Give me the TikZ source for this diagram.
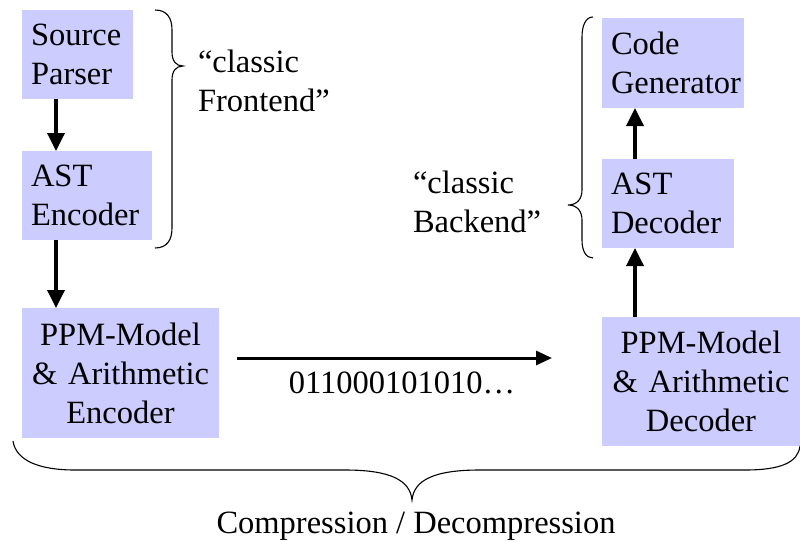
\documentclass[tikz,border=0pt]{standalone}
\usepackage{fontspec}
\setmainfont{Liberation Serif}
\usetikzlibrary{arrows.meta}
\definecolor{boxfill}{RGB}{204,204,255}
\hfuzz=30pt
\begin{document}
\begin{tikzpicture}[x=1pt,y=-1pt,
  every node/.style={font=\fontsize{32.5}{39}\selectfont},
  block/.style={fill=boxfill, inner xsep=9pt, inner ysep=0pt, outer sep=0pt, anchor=center},
  label/.style={inner sep=0pt, outer sep=0pt},
  arr/.style={line width=3.5pt, -{Triangle[length=18pt,width=17pt]}},
  harr/.style={line width=3pt, -{Triangle[length=16pt,width=14pt]}},
  brace/.style={line width=1.1pt}]
\useasboundingbox (0,0) rectangle (800,541);

% compression side
\node[block, text width=93pt, minimum height=89pt, align=left] (sp) at (77.5,54.5) {Source\\Parser};
\node[block, text width=112pt, minimum height=89pt, align=left] (aste) at (87,195.5) {AST\\Encoder};
\node[block, text width=179pt, minimum height=130pt, align=center] (ppme) at (120.5,373) {PPM-Model\\\& Arithmetic\\Encoder};

% decompression side
\node[block, text width=124pt, minimum height=90pt, align=left] (cg) at (673,63) {Code\\Generator};
\node[block, text width=114pt, minimum height=89pt, align=left] (astd) at (668,203.5) {AST\\Decoder};
\node[block, text width=180pt, minimum height=129pt, align=center] (ppmd) at (701,381.5) {PPM-Model\\\& Arithmetic\\Decoder};

% guide coordinates for the connectors
\coordinate (xl) at (56,0);
\coordinate (xr) at (635,0);
\coordinate (yh) at (0,358);

\draw[arr] (sp.south -| xl) -- (aste.north -| xl);
\draw[arr] (aste.south -| xl) -- (ppme.north -| xl);
\draw[arr] (ppmd.north -| xr) -- (astd.south -| xr);
\draw[arr] (astd.north -| xr) -- (cg.south -| xr);
\draw[harr] ([xshift=18pt]ppme.east |- yh) -- ([xshift=-50pt]ppmd.west |- yh);

\node[label, anchor=base] (bits) at (402,393) {011000101010…};

% frontend brace
\draw[brace] (155,10) .. controls (167,10) and (172,18) .. (172,30) -- (172,52)
  .. controls (172,61) and (176,66) .. (183,66)
  .. controls (176,66) and (172,71) .. (172,80) -- (172,228)
  .. controls (172,240) and (167,248) .. (155,248);
\node[label, anchor=base west, text width=150pt, align=left] (fe) at (198,72) {“classic\\Frontend”};

% backend brace
\draw[brace] (593,17) .. controls (586,17) and (582,25) .. (582,37) -- (582,190)
  .. controls (582,199) and (577,205) .. (568,205)
  .. controls (577,205) and (582,211) .. (582,220) -- (582,240)
  .. controls (582,251) and (586,258) .. (593,258);
\node[label, anchor=base west, text width=150pt, align=left] (be) at (413,193) {“classic\\Backend”};

% bottom brace
\draw[brace] (13,441) .. controls (16,461) and (40,470) .. (75,470) -- (345,470)
  .. controls (390,470) and (410,480) .. (412,500)
  .. controls (414,480) and (434,470) .. (480,470) -- (745,470)
  .. controls (782,470) and (798,462) .. (800,446);
\node[label, anchor=base] (cd) at (416,533) {Compression / Decompression};
\end{tikzpicture}
\end{document}
